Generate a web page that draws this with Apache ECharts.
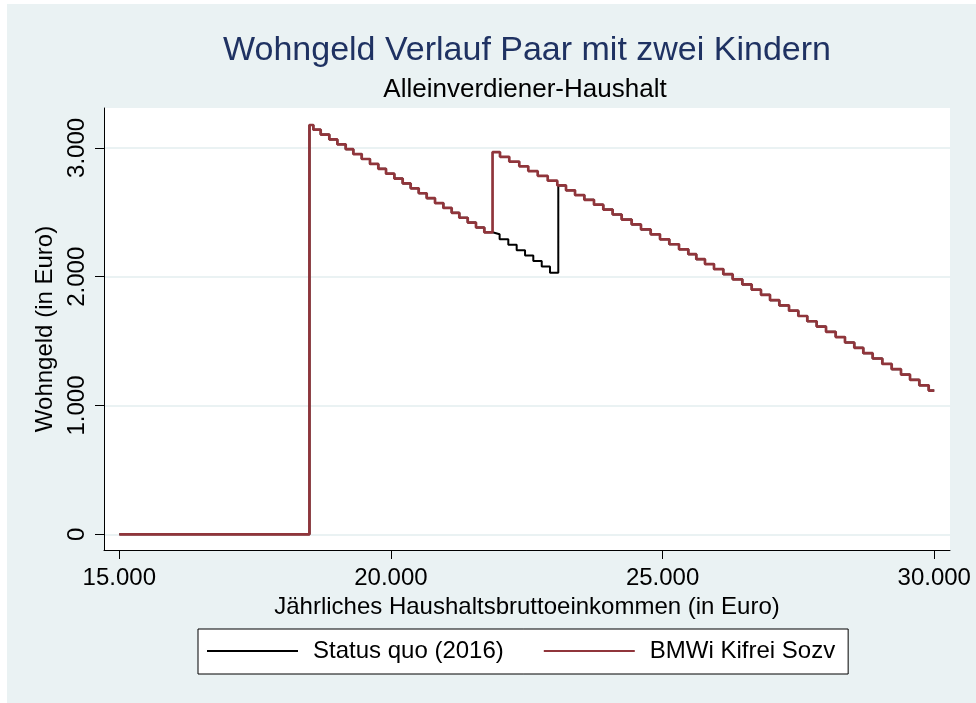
<!DOCTYPE html>
<html>
<head>
<meta charset="utf-8">
<script src="https://cdn.jsdelivr.net/npm/echarts@6/dist/echarts.min.js"></script>
<style>
  html, body { margin: 0; padding: 0; background: #fff; }
  #wrap { position: relative; width: 976px; height: 703px; }
  #bg { position: absolute; left: 7px; top: 4px; right: 0; bottom: 0; background: #eaf2f3; }
  #chart { position: absolute; left: 0; top: 0; width: 976px; height: 703px; }
</style>
</head>
<body>
<div id="wrap">
  <div id="bg"></div>
  <div id="chart"></div>
</div>
<script>
// shared part: zero until 18.500, then the falling stairs up to the reform jump
const baseX = [15000, 18500, 18571, 18707, 18865, 19013, 19167, 19307, 19462, 19614, 19767, 19909,
  20062, 20216, 20363, 20511, 20658, 20811, 20964, 21118, 21258, 21413, 21565, 21718]
const baseY = [0, 3178, 3142, 3104, 3066, 3028, 2990, 2952, 2914, 2876, 2838, 2800,
  2762, 2724, 2686, 2648, 2610, 2572, 2534, 2496, 2458, 2420, 2382, 2345]

// status quo between the two jumps
const statusX = [21870, 22000, 22160, 22314, 22468, 22620, 22775, 22927, 23080]
const statusY = [2330, 2290, 2248, 2206, 2164, 2122, 2080, 2030, 2709]

// reform (BMWi) from its jump to the end
const reformX = [21870, 22007, 22178, 22362, 22528, 22701, 22885, 23062, 23222, 23388, 23559, 23737,
  23908, 24081, 24247, 24431, 24602, 24781, 24952, 25123, 25302, 25473, 25620, 25780, 25946, 26117,
  26290, 26467, 26640, 26811, 26977, 27148, 27327, 27498, 27663, 27836, 28008, 28186, 28357, 28528,
  28694, 28867, 29044, 29217, 29388, 29554, 29725, 29898, 30000]
const reformY = [2968, 2931, 2894, 2857, 2820, 2783, 2746, 2709, 2671, 2634, 2597, 2559,
  2521, 2483, 2444, 2406, 2367, 2329, 2290, 2252, 2213, 2175, 2136, 2098, 2059, 2020,
  1980, 1940, 1899, 1859, 1818, 1777, 1736, 1695, 1654, 1613, 1572, 1531, 1489, 1448,
  1406, 1365, 1323, 1282, 1240, 1199, 1157, 1116, 1116]

const xTicks = [15000, 20000, 25000, 30000]
const yTicks = [0, 1000, 2000, 3000]

const pairs = (xs, ys) => xs.map((x, i) => [x, ys[i]])
const base = pairs(baseX, baseY)
const reform = base.concat(pairs(reformX, reformY))
// after its jump the status quo runs on the reform stairs
const status = base.concat(pairs(statusX, statusY), pairs(reformX.slice(8), reformY.slice(8)))

const fmt = v => String(v).replace(/\B(?=(\d{3})+(?!\d))/g, '.')
const font = 'Liberation Sans, Arial, sans-serif'

const chart = echarts.init(document.getElementById('chart'), null, { renderer: 'canvas' })
chart.setOption({
  backgroundColor: 'transparent',
  animation: false,
  textStyle: { fontFamily: font },
  grid: {
    left: 104, right: 26, top: 108, bottom: 153,
    show: true, backgroundColor: '#fff', borderWidth: 0
  },
  graphic: [
    { type: 'text', x: 527, y: 51,
      style: { text: 'Wohngeld Verlauf Paar mit zwei Kindern', fill: '#1f3262', font: '34px ' + font,
        textAlign: 'center', textVerticalAlign: 'middle' } },
    { type: 'text', x: 525, y: 90,
      style: { text: 'Alleinverdiener-Haushalt', fill: '#000', font: '26px ' + font,
        textAlign: 'center', textVerticalAlign: 'middle' } }
  ],
  legend: {
    left: 198, top: 629,
    padding: [10, 13, 11, 9],
    backgroundColor: '#fff',
    borderColor: '#000', borderWidth: 1, borderRadius: 0,
    icon: 'rect', itemWidth: 91, itemHeight: 2, itemGap: 40,
    textStyle: { color: '#000', fontSize: 24, fontFamily: font, padding: [0, 0, 0, 10] },
    data: ['Status quo (2016)', 'BMWi Kifrei Sozv']
  },
  xAxis: {
    type: 'value', min: 14718, max: 30290,
    name: 'Jährliches Haushaltsbruttoeinkommen (in Euro)',
    nameLocation: 'middle', nameGap: 41,
    nameTextStyle: { color: '#000', fontSize: 24 },
    axisLine: { onZero: false, lineStyle: { color: '#000', width: 1 } },
    axisTick: { show: true, length: 9, customValues: xTicks, lineStyle: { color: '#000' } },
    axisLabel: { customValues: xTicks, formatter: fmt, color: '#000', fontSize: 24, margin: 16 },
    splitLine: { show: false }
  },
  yAxis: {
    type: 'value', min: -122, max: 3310,
    name: 'Wohngeld (in Euro)',
    nameLocation: 'middle', nameGap: 45,
    nameTextStyle: { color: '#000', fontSize: 24 },
    axisLine: { show: true, lineStyle: { color: '#000', width: 1 } },
    axisTick: { show: true, length: 9, customValues: yTicks, lineStyle: { color: '#000' } },
    axisLabel: { customValues: yTicks, formatter: fmt, color: '#000', fontSize: 24, rotate: 90, margin: 15 },
    splitLine: { show: true, lineStyle: { color: '#eaf2f3', width: 2 } }
  },
  series: [
    {
      name: 'Status quo (2016)', type: 'line', step: 'end',
      data: status, showSymbol: false, symbol: 'none',
      lineStyle: { color: '#000', width: 2 }, itemStyle: { color: '#000' }
    },
    {
      name: 'BMWi Kifrei Sozv', type: 'line', step: 'end',
      data: reform, showSymbol: false, symbol: 'none',
      lineStyle: { color: '#90353b', width: 2.7 }, itemStyle: { color: '#90353b' }
    }
  ]
})
</script>
</body>
</html>
